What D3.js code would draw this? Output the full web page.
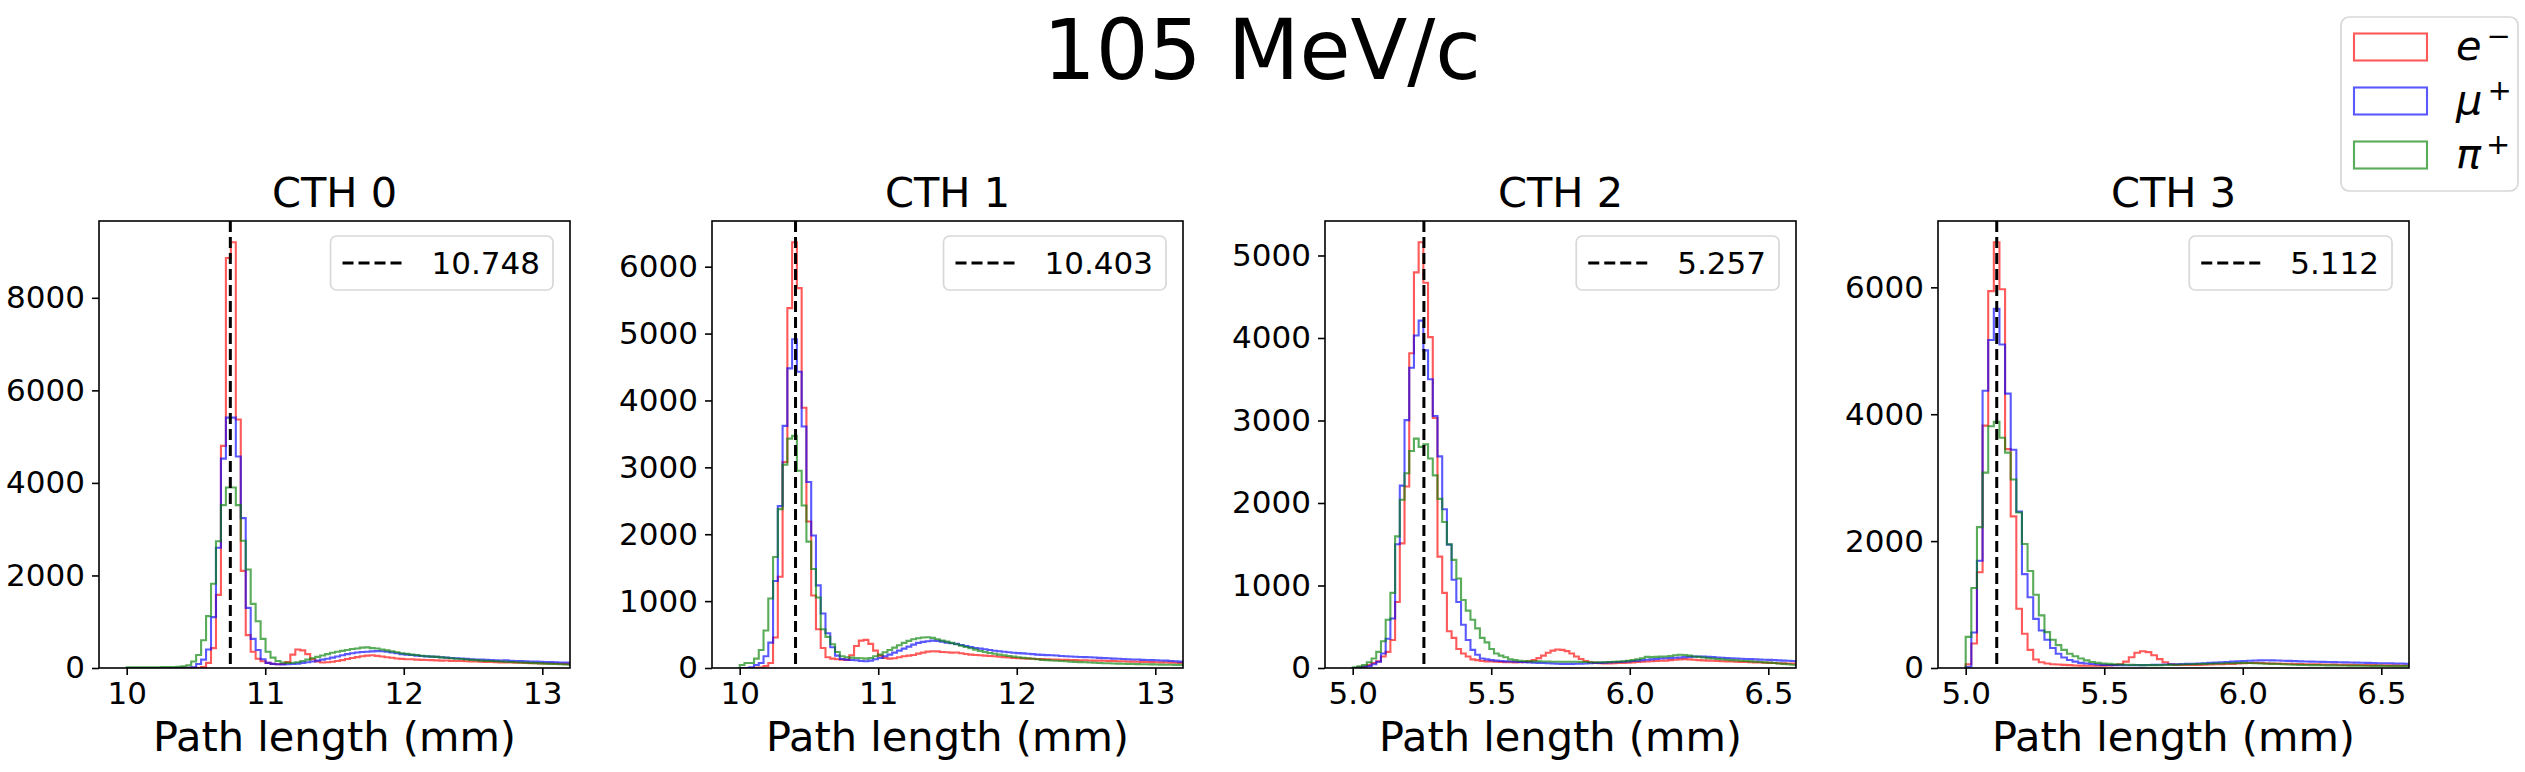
<!DOCTYPE html>
<html><head><meta charset="utf-8">
<script src="https://cdn.jsdelivr.net/npm/d3@7"></script>
<style>body{margin:0;background:#fff}svg{display:block}text{font-family:"DejaVu Sans",sans-serif}</style>
</head><body><svg id="chart" width="2525" height="772"></svg>
<script>
// ---------------- data ----------------
const figTitle = "105 MeV/c";
const panelTitles = ["CTH 0", "CTH 1", "CTH 2", "CTH 3"];
const peakValues = [10.748, 10.403, 5.257, 5.112];
const binStart = [10.0, 10.0, 5.0, 5.0];
const binWidth = [0.0358, 0.0344, 0.017, 0.0203];
const xDomains = [[9.8, 13.2], [9.8, 13.2], [4.9, 6.6], [4.9, 6.6]];
const xTicks = [[10, 11, 12, 13], [10, 11, 12, 13], [5.0, 5.5, 6.0, 6.5], [5.0, 5.5, 6.0, 6.5]];
const yTicks = [[0, 2000, 4000, 6000, 8000], [0, 1000, 2000, 3000, 4000, 5000, 6000], [0, 1000, 2000, 3000, 4000, 5000], [0, 2000, 4000, 6000]];
const particles = ["e", "μ", "π"];
const charges = ["−", "+", "+"];
const xLabel = "Path length (mm)";

const e_cth0 = [0,0,0,0,0,0,0,0,0,1, 1,2,3,4,6,20,110,430,1580,4800, 8860,9200,5370,2100,710,350,200,145,110,90, 80,85,130,290,400,380,300,190,140,120, 125,135,150,170,195,215,235,255,268,275, 262,250,232,220,205,198,190,188,180,176, 172,170,165,160,162,155,150,150,145,140, 142,135,130,132,126,122,120,118,114,112, 110,106,104,100,98,96,94,92,90,88, 86];
const mu_cth0 = [0,0,0,0,0,0,0,0,1,1, 2,3,5,15,85,180,400,1100,2600,4525, 5410,5410,4570,3240,1300,630,390,190,110,90, 80,78,80,85,95,110,125,140,160,180, 200,225,250,275,300,320,335,345,350,360, 365,362,350,335,318,300,290,280,268,260, 252,245,240,232,225,215,210,205,198,190, 185,180,175,170,165,160,165,155,150,148, 145,140,138,135,130,128,125,120,118,112, 105];
const pi_cth0 = [15,15,15,15,15,16,16,18,20,22, 25,35,60,140,280,600,1120,1820,2740,3520, 3900,3900,3520,2750,2130,1385,1010,630,350,225, 150,120,110,115,125,150,180,210,240,270, 300,330,350,370,390,410,420,440,445,430, 420,400,380,360,340,320,305,290,280,265, 255,245,240,230,220,210,200,195,185,175, 170,160,155,150,145,140,135,130,125,120, 115,110,105,100,95,90,85,80,75,70, 68];

const e_cth1 = [0,0,0,2,5,30,75,455,1365,3080, 5380,6365,5680,3890,2190,1085,580,300,160,140, 130,125,120,190,330,410,420,360,260,185, 150,140,145,160,175,185,195,215,230,245, 250,248,240,235,230,232,220,210,200,195, 190,185,180,175,168,162,158,150,146,142, 140,138,135,132,130,128,126,124,122,120, 118,116,115,113,111,110,108,106,104,102, 100,98,96,94,92,90,88,86,84,82, 80,78,76,74];
const mu_cth1 = [0,0,10,45,75,175,380,1300,2420,3620, 4480,4915,4430,3610,2780,1980,1235,815,520,310, 185,135,125,120,115,105,100,110,130,150, 175,200,230,260,290,320,350,375,390,400, 410,405,395,380,370,360,345,330,315,300, 290,280,270,258,250,242,235,228,222,218, 212,208,200,196,192,190,186,180,176,172, 168,165,162,160,156,152,148,145,140,138, 135,130,128,126,122,120,118,115,112,110, 105,100,95,90];
const pi_cth1 = [45,75,75,140,270,560,1040,1660,2375,3040, 3430,3470,2950,2430,1890,1480,1055,580,465,355, 240,175,160,155,150,145,140,150,175,200, 235,270,305,340,375,405,430,445,455,460, 450,430,410,395,375,355,335,315,295,275, 255,240,225,212,200,190,180,170,160,152, 145,138,130,122,118,112,108,104,100,96, 92,88,85,82,78,75,72,70,68,66, 64,62,60,58,56,55,54,52,50,49, 48,47,46,45];

const e_cth2 = [0,5,15,35,60,80,140,195,340,800, 1510,2200,3815,4795,5160,4670,4010,3030,1350,910, 445,365,230,175,140,105,95,85,80,78, 75,72,70,70,68,70,72,80,95,120, 150,185,210,225,220,205,175,140,110,85, 70,62,58,55,55,58,60,62,65,68, 72,75,78,82,85,88,90,95,100,105, 108,105,100,95,92,90,88,85,82,80, 78,76,74,72,70,68,66,64,62,60, 58,56,55,54,52];
const mu_cth2 = [0,5,15,25,45,75,175,355,600,1500, 2210,3005,3640,4030,4210,3850,3500,3055,2565,1925, 1495,1070,800,525,340,220,160,115,105,95, 90,85,80,78,75,72,70,68,65,62, 60,58,55,52,50,50,50,52,52,55, 58,60,62,65,68,70,72,76,80,85, 90,95,100,105,110,115,118,120,125,128, 132,135,138,140,138,135,132,128,125,120, 118,115,112,110,108,105,102,100,98,95, 92,90,88,85,82];
const pi_cth2 = [10,20,35,70,115,195,325,585,910,1595, 2040,2360,2630,2780,2680,2710,2540,2335,2050,1770, 1500,1310,1085,825,695,585,480,365,310,230, 175,150,130,105,95,88,85,82,80,80, 78,78,76,75,75,76,76,75,74,72, 70,70,70,70,72,75,78,82,88,95, 105,118,135,132,135,138,140,145,155,160, 158,150,140,135,128,120,115,110,105,100, 95,92,88,85,80,76,72,68,65,60, 55,50,45,40,35];

const e_cth3 = [60,385,1510,3820,5940,6710,5970,3450,2390,935, 540,285,135,90,70,60,55,50,45,40, 38,35,35,35,38,42,48,60,100,170, 240,265,250,200,140,90,60,50,48,48, 48,50,52,55,58,60,62,65,70,75, 78,80,78,75,72,70,68,66,64,62, 60,60,58,56,55,54,52,50,50,48, 47,46,45,44,43,42,41,40,40];
const mu_cth3 = [20,560,1690,4370,5170,5660,5100,4325,3440,2465, 1480,1115,775,590,445,315,225,165,125,100, 80,70,62,55,50,48,46,45,44,44, 45,46,48,50,52,55,58,60,62,65, 68,72,76,80,85,90,95,100,105,110, 115,118,120,122,120,118,115,112,108,105, 102,100,98,96,94,92,90,88,86,84, 82,80,78,76,75,74,72,70,68];
const pi_cth3 = [490,1260,2220,3080,3810,3880,3630,3395,2970,2450, 1955,1530,1155,830,565,445,360,285,225,185, 150,120,95,80,72,65,60,55,52,50, 48,46,45,45,46,48,50,52,55,58, 60,62,65,68,70,72,75,76,78,80, 78,76,72,68,65,62,58,55,52,50, 48,46,45,44,42,41,40,39,38,37, 36,35,34,33,32,31,30,30,29];

const eData = [e_cth0, e_cth1, e_cth2, e_cth3];
const muData = [mu_cth0, mu_cth1, mu_cth2, mu_cth3];
const piData = [pi_cth0, pi_cth1, pi_cth2, pi_cth3];

// ---------------- layout / style ----------------
const colors = ["rgb(255,0,0)", "rgb(0,0,255)", "rgb(0,128,0)"];
const lineOpacity = 0.65;
const axLeft = [99, 712, 1325, 1938];
const axW = 471, axTop = 221, axBottom = 668;
const FONT = "DejaVu Sans";
const tickFont = 31, labelFont = 41.5;

const svg = d3.select("#chart");
svg.append("rect").attr("width", 2525).attr("height", 772).attr("fill", "white");

svg.append("text").attr("x", 1262).attr("y", 79).attr("text-anchor", "middle")
  .attr("font-size", 83).attr("font-family", FONT).text(figTitle);

const xFmt = [d3.format("d"), d3.format("d"), d3.format(".1f"), d3.format(".1f")];

panelTitles.forEach((title, i) => {
  const x0 = axLeft[i], x1 = x0 + axW;
  const x = d3.scaleLinear().domain(xDomains[i]).range([x0, x1]);
  const series = [eData[i], muData[i], piData[i]];
  const ymax = d3.max(series.flat()) * 1.05;
  const y = d3.scaleLinear().domain([0, ymax]).range([axBottom, axTop]);
  const g = svg.append("g");

  const clipId = "clip" + i;
  svg.append("clipPath").attr("id", clipId).append("rect")
    .attr("x", x0).attr("y", axTop).attr("width", axW).attr("height", axBottom - axTop);

  const line = d3.line().x(d => x(d[0])).y(d => y(d[1]));
  series.forEach((vals, s) => {
    const st = binStart[i], w = binWidth[i];
    const pts = [[st, 0]];
    vals.forEach((v, k) => { pts.push([st + k * w, v]); pts.push([st + (k + 1) * w, v]); });
    pts.push([st + vals.length * w, 0]);
    g.append("path").attr("d", line(pts)).attr("fill", "none")
      .attr("stroke", colors[s]).attr("stroke-opacity", lineOpacity)
      .attr("stroke-width", 2.1).attr("stroke-linejoin", "miter")
      .attr("clip-path", `url(#${clipId})`);
  });

  // vertical dashed line at peak
  g.append("line").attr("x1", x(peakValues[i])).attr("x2", x(peakValues[i]))
    .attr("y1", axTop).attr("y2", axBottom)
    .attr("stroke", "black").attr("stroke-width", 3).attr("stroke-dasharray", "11,5");

  // axes
  const xa = g.append("g").attr("transform", `translate(0,${axBottom})`)
    .call(d3.axisBottom(x).tickValues(xTicks[i]).tickFormat(xFmt[i]).tickSize(7).tickPadding(7).tickSizeOuter(0));
  xa.select(".domain").remove();
  xa.attr("font-size", tickFont).attr("font-family", FONT);
  xa.selectAll("line").attr("stroke-width", 1.6);
  xa.selectAll("text").attr("fill", "black");

  const ya = g.append("g").attr("transform", `translate(${x0},0)`)
    .call(d3.axisLeft(y).tickValues(yTicks[i]).tickFormat(d3.format("d")).tickSize(7).tickPadding(7).tickSizeOuter(0));
  ya.select(".domain").remove();
  ya.attr("font-size", tickFont).attr("font-family", FONT);
  ya.selectAll("line").attr("stroke-width", 1.6);
  ya.selectAll("text").attr("fill", "black");

  g.append("rect").attr("x", x0).attr("y", axTop).attr("width", axW).attr("height", axBottom - axTop)
    .attr("fill", "none").attr("stroke", "black").attr("stroke-width", 1.6);

  // titles / labels
  g.append("text").attr("x", (x0 + x1) / 2).attr("y", 207).attr("text-anchor", "middle")
    .attr("font-size", labelFont).attr("font-family", FONT).text(title);
  g.append("text").attr("x", (x0 + x1) / 2).attr("y", 751).attr("text-anchor", "middle")
    .attr("font-size", labelFont).attr("font-family", FONT).text(xLabel);

  // panel legend
  const lg = g.append("g");
  const boxR = x1 - 17, boxT = axTop + 15, boxH = 54;
  const txt = lg.append("text").attr("font-size", tickFont).attr("font-family", FONT)
    .text(d3.format(".3f")(peakValues[i]));
  const tw = txt.node().getComputedTextLength();
  const textX = boxR - 13 - tw;
  txt.attr("x", textX).attr("y", boxT + boxH / 2 + 11);
  const hEnd = textX - 27, hStart = hEnd - 62;
  lg.insert("rect", "text").attr("x", hStart - 12).attr("y", boxT)
    .attr("width", boxR - hStart + 12).attr("height", boxH).attr("rx", 6)
    .attr("fill", "white").attr("fill-opacity", 0.8).attr("stroke", "#d8d8d8").attr("stroke-width", 1.7);
  lg.append("line").attr("x1", hStart).attr("x2", hEnd)
    .attr("y1", boxT + boxH / 2).attr("y2", boxT + boxH / 2)
    .attr("stroke", "black").attr("stroke-width", 3).attr("stroke-dasharray", "11,5");
});

// figure legend
const fl = svg.append("g");
fl.append("rect").attr("x", 2341).attr("y", 17).attr("width", 177).attr("height", 174).attr("rx", 8)
  .attr("fill", "white").attr("fill-opacity", 0.8).attr("stroke", "#d8d8d8").attr("stroke-width", 1.7);
const rowBase = [59.5, 113.5, 167.5];
particles.forEach((p, s) => {
  fl.append("rect").attr("x", 2354).attr("y", rowBase[s] - 26).attr("width", 73).attr("height", 27)
    .attr("fill", "none").attr("stroke", colors[s]).attr("stroke-opacity", lineOpacity).attr("stroke-width", 2.1);
  const t = fl.append("text").attr("x", 2456).attr("y", rowBase[s])
    .attr("font-size", labelFont).attr("font-family", FONT);
  t.append("tspan").attr("font-style", "italic").text(p);
  t.append("tspan").attr("font-size", 29).attr("dy", -14).attr("dx", 5).text(charges[s]);
});
</script>
</body></html>
